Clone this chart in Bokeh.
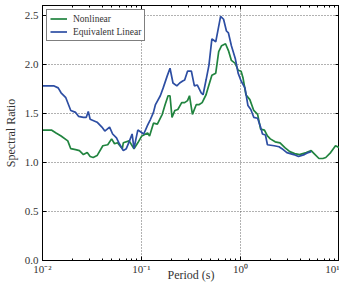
from bokeh.plotting import figure
from bokeh.models import (FixedTicker, Legend, LegendItem, Range1d, PrintfTickFormatter,
                          LinearAxis, LogAxis)
from bokeh.embed import file_html
from bokeh.resources import INLINE

# Equivalent linear (blue)
el_period = [0.0100, 0.0131, 0.0144, 0.0154, 0.0172, 0.0193, 0.0216, 0.0231, 0.0259, 0.0277,
             0.0290, 0.0303, 0.0356, 0.0398, 0.0426, 0.0476, 0.0511, 0.0559, 0.0598, 0.0655,
             0.0702, 0.0750, 0.0804, 0.0840, 0.0879, 0.0918, 0.0984, 0.1054, 0.1153, 0.1233,
             0.1321, 0.1384, 0.1549, 0.1656, 0.1816, 0.1941, 0.2080, 0.2275, 0.2432, 0.2606,
             0.2729, 0.2917, 0.3192, 0.3420, 0.3656, 0.4009, 0.4188, 0.4487, 0.4797, 0.5140,
             0.5623, 0.6295, 0.6745, 0.7211, 0.7551, 0.8091, 0.8851, 0.9462, 1.014, 1.109,
             1.189, 1.271, 1.361, 1.489, 1.596, 1.667, 1.786, 1.871, 2.188, 2.449,
             2.624, 2.938, 3.443, 3.855, 4.416, 4.831, 5.176]
el_ratio = [1.78, 1.78, 1.76, 1.71, 1.66, 1.53, 1.51, 1.47, 1.46, 1.46,
            1.52, 1.44, 1.41, 1.36, 1.32, 1.36, 1.29, 1.25, 1.19, 1.12,
            1.14, 1.21, 1.29, 1.14, 1.24, 1.33, 1.31, 1.29, 1.38, 1.44,
            1.51, 1.59, 1.68, 1.76, 1.88, 1.96, 1.81, 1.78, 1.81, 1.83,
            1.84, 1.93, 1.93, 1.78, 1.79, 1.71, 1.69, 1.84, 1.99, 2.26,
            2.23, 2.49, 2.46, 2.34, 2.32, 2.19, 2.06, 1.91, 1.83, 1.76,
            1.58, 1.54, 1.46, 1.45, 1.36, 1.29, 1.28, 1.18, 1.17, 1.16,
            1.14, 1.10, 1.08, 1.06, 1.08, 1.10, 1.11]

# Nonlinear (green)
nl_period = [0.0100, 0.0123, 0.0137, 0.0154, 0.0180, 0.0193, 0.0216, 0.0236, 0.0259, 0.0283,
             0.0303, 0.0325, 0.0356, 0.0407, 0.0456, 0.0499, 0.0534, 0.0572, 0.0640, 0.0655,
             0.0750, 0.0840, 0.0918, 0.1007, 0.1153, 0.1206, 0.1321, 0.1446, 0.1620, 0.1734,
             0.1856, 0.1941, 0.2032, 0.2175, 0.2327, 0.2548, 0.2729, 0.2917, 0.3054, 0.3268,
             0.3578, 0.3830, 0.4099, 0.4487, 0.4797, 0.5140, 0.5623, 0.6022, 0.6446, 0.7056,
             0.7551, 0.8091, 0.8851, 0.9462, 1.014, 1.061, 1.135, 1.243, 1.361, 1.489,
             1.596, 1.746, 1.871, 2.000, 2.239, 2.508, 2.808, 3.145, 3.522, 3.944,
             4.621, 5.176, 5.539, 6.202, 6.792, 7.268, 8.137, 9.115, 10.0]
nl_ratio = [1.33, 1.33, 1.30, 1.27, 1.22, 1.14, 1.13, 1.12, 1.08, 1.10,
            1.06, 1.05, 1.07, 1.17, 1.18, 1.24, 1.19, 1.20, 1.14, 1.20,
            1.22, 1.14, 1.20, 1.27, 1.30, 1.27, 1.40, 1.39, 1.49, 1.59,
            1.68, 1.68, 1.46, 1.53, 1.54, 1.61, 1.61, 1.63, 1.68, 1.49,
            1.59, 1.59, 1.61, 1.69, 1.79, 1.89, 1.91, 2.13, 2.19, 2.21,
            2.14, 2.04, 2.01, 1.94, 1.93, 1.86, 1.69, 1.64, 1.53, 1.49,
            1.34, 1.33, 1.27, 1.24, 1.21, 1.20, 1.15, 1.11, 1.09, 1.08,
            1.10, 1.12, 1.09, 1.04, 1.04, 1.05, 1.10, 1.17, 1.15]

x_ticks = [0.01, 0.1, 1, 10]
x_tick_labels = {0.01: "10⁻²", 0.1: "10⁻¹", 1: "10⁰", 10: "10¹"}
x_minor = [m * 10.0 ** e for e in (-2, -1, 0) for m in range(2, 10)]
y_ticks = [0.0, 0.5, 1.0, 1.5, 2.0, 2.5]

FONT = "Liberation Serif"
GREEN = "#21843f"
BLUE = "#2d4ea3"

p = figure(width=339, height=284, x_axis_type="log",
           x_range=Range1d(0.01, 10), y_range=Range1d(0, 2.6),
           output_backend="svg", toolbar_location=None,
           min_border_left=31, min_border_right=0, min_border_top=5, min_border_bottom=10)

p.outline_line_color = "black"
p.outline_line_width = 1
p.background_fill_color = "white"
p.border_fill_color = "white"

ln = p.line(nl_period, nl_ratio, line_color=GREEN, line_width=1.7)
le = p.line(el_period, el_ratio, line_color=BLUE, line_width=1.7)

def style_axis(ax, labels=True):
    ax.axis_line_color = "black"
    ax.major_tick_in = 4
    ax.major_tick_out = 0
    ax.minor_tick_in = 2
    ax.minor_tick_out = 0
    ax.major_tick_line_color = "black"
    ax.minor_tick_line_color = "black"
    ax.major_label_text_font = FONT
    ax.major_label_text_font_size = "11px"
    ax.major_label_text_color = "#333333"
    ax.axis_label_text_font = FONT
    ax.axis_label_text_font_size = "12px"
    ax.axis_label_text_font_style = "normal"
    ax.axis_label_text_color = "#333333"
    if not labels:
        ax.major_label_text_font_size = "1px"
        ax.major_label_text_alpha = 0
        ax.major_label_standoff = 0

xa = p.xaxis[0]
xa.ticker = FixedTicker(ticks=x_ticks, minor_ticks=x_minor)
xa.major_label_overrides = x_tick_labels
xa.axis_label = "Period (s)"
xa.major_label_standoff = 2
xa.axis_label_standoff = -10
style_axis(xa)

ya = p.yaxis[0]
ya.ticker = FixedTicker(ticks=y_ticks)
ya.formatter = PrintfTickFormatter(format="%.1f")
ya.axis_label = "Spectral Ratio"
ya.major_label_standoff = 4
ya.axis_label_standoff = 4
ya.minor_tick_in = 0
style_axis(ya)

top = LogAxis(ticker=FixedTicker(ticks=x_ticks, minor_ticks=x_minor))
style_axis(top, labels=False)
p.add_layout(top, "above")
right = LinearAxis(ticker=FixedTicker(ticks=y_ticks))
style_axis(right, labels=False)
right.minor_tick_in = 0
p.add_layout(right, "right")

p.xgrid.ticker = FixedTicker(ticks=x_ticks)
p.ygrid.ticker = FixedTicker(ticks=y_ticks)
for g in (p.xgrid[0], p.ygrid[0]):
    g.grid_line_color = "#555555"
    g.grid_line_dash = "1 2"
    g.grid_line_width = 1
    g.grid_line_alpha = 0.9

legend = Legend(items=[LegendItem(label="Nonlinear", renderers=[ln]),
                       LegendItem(label="Equivalent Linear", renderers=[le])],
                location="top_left")
legend.label_text_font = FONT
legend.label_text_font_size = "9.5px"
legend.label_text_color = "#333333"
legend.border_line_color = "black"
legend.border_line_width = 1
legend.background_fill_alpha = 1
legend.margin = 4
legend.padding = 3
legend.spacing = 2
legend.glyph_width = 17
legend.glyph_height = 11
legend.label_height = 11
legend.label_standoff = 6
p.add_layout(legend)

open("out.html", "w").write(file_html(p, INLINE))
